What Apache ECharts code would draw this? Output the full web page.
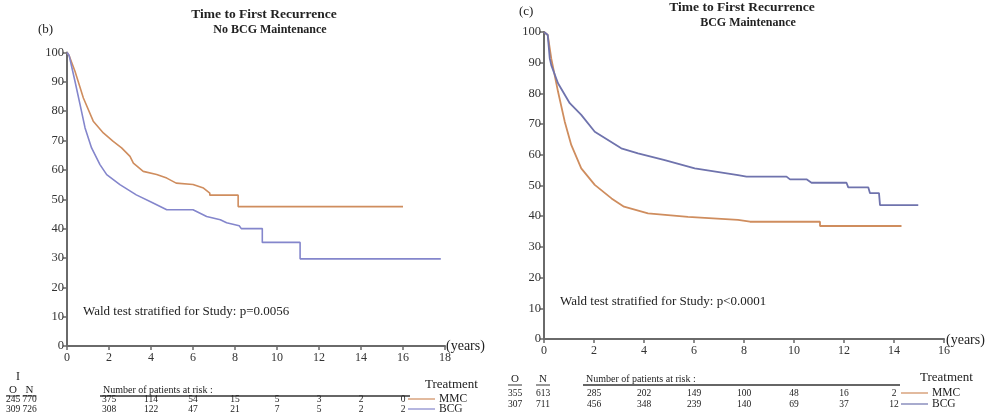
<!DOCTYPE html>
<html><head><meta charset="utf-8">
<script src="https://cdn.jsdelivr.net/npm/echarts@6/dist/echarts.min.js"></script>
<style>html,body{margin:0;padding:0;background:#fff}#c{width:990px;height:418px}</style>
</head><body><div id="c"></div>
<script>
// ---- data ----
// Left panel (b): No BCG Maintenance  [years, % recurrence-free]
const leftMMC = [[0,100],[0.1,99],[0.38,93.6],[0.78,84.5],[1.25,76.6],[1.73,72.6],[2.2,69.7],[2.6,67.5],[3.0,64.6],[3.16,62.3],[3.63,59.5],[4.27,58.4],[4.75,57.2],[5.2,55.5],[6.0,55],[6.5,53.8],[6.8,52.1],[6.8,51.4],[8.15,51.4],[8.15,47.5],[16,47.5]];
const leftBCG = [[0,100],[0.1,99],[0.38,90.2],[0.62,82.3],[0.86,74.3],[1.17,67.5],[1.57,61.8],[1.89,58.4],[2.52,55],[3.3,51.5],[4.1,48.7],[4.75,46.4],[6.0,46.4],[6.65,44.1],[7.3,43],[7.6,42],[8.2,41],[8.3,40],[9.3,40],[9.3,35.3],[11.1,35.3],[11.1,29.7],[17.8,29.7]];
const leftRiskTimes = [2,4,6,8,10,12,14,16];
const leftRiskMMC = [375,114,54,15,5,3,2,0];
const leftRiskBCG = [308,122,47,21,7,5,2,2];
const leftON_MMC = ['245','770'];
const leftON_BCG = ['309','726'];
// Right panel (c): BCG Maintenance
const rightMMC = [[0,100],[0.15,99],[0.29,91.4],[0.56,80.6],[0.83,70.8],[1.09,63.2],[1.49,55.6],[2.03,50.2],[2.7,45.8],[3.2,43.1],[4.16,40.9],[5.76,39.8],[7.76,38.8],[8.24,38.2],[11.04,38.2],[11.04,36.8],[14.3,36.8]];
const rightBCG = [[0,100],[0.15,99],[0.23,91.4],[0.29,89.2],[0.56,83.3],[1.03,76.8],[1.49,73],[2.03,67.5],[3.09,62.1],[3.76,60.5],[4.83,58.3],[6.03,55.6],[7.76,53.4],[8.1,52.9],[9.7,52.9],[9.84,52],[10.5,52],[10.7,50.9],[12.1,50.9],[12.17,49.4],[12.97,49.4],[13.04,47.5],[13.4,47.5],[13.44,43.6],[14.97,43.6]];
const rightRiskTimes = [2,4,6,8,10,12,14];
const rightRiskMMC = [285,202,149,100,48,16,2];
const rightRiskBCG = [456,348,239,140,69,37,12];
const rightON_MMC = ['355','613'];
const rightON_BCG = ['307','711'];

// ---- styling ----
const SERIF = '"Liberation Serif","DejaVu Serif",serif';
const AX = '#6a6a6a';
const C_MMC = '#cf8d5e';
const C_BCG_L = '#8486cc';
const C_BCG_R = '#6f73ad';

function xAx(grid, max) {
  return {type:'value', gridIndex:grid, min:0, max:max, interval:2,
    axisLine:{show:true, lineStyle:{color:AX, width:2}},
    axisTick:{show:true, length:4, lineStyle:{color:AX, width:1.5}},
    axisLabel:{color:'#333', fontFamily:SERIF, fontSize:12, margin:6},
    splitLine:{show:false}};
}
function yAx(grid) {
  return {type:'value', gridIndex:grid, min:0, max:100, interval:10,
    axisLine:{show:true, lineStyle:{color:AX, width:2}},
    axisTick:{show:true, length:4, lineStyle:{color:AX, width:1.5}},
    axisLabel:{color:'#333', fontFamily:SERIF, fontSize:12.5, margin:3},
    splitLine:{show:false}};
}
function line(data, color, xi, w) {
  return {type:'line', xAxisIndex:xi, yAxisIndex:xi, data:data, symbol:'none',
    lineStyle:{color:color, width:w}, silent:true, animation:false};
}

const chart = echarts.init(document.getElementById('c'), null, {renderer:'canvas'});
chart.setOption({
  animation:false,
  backgroundColor:'#fff',
  grid:[
    {left:67, top:52.5, width:378, height:293.5},
    {left:544, top:32, width:400, height:307}
  ],
  xAxis:[xAx(0,18), xAx(1,16)],
  yAxis:[yAx(0), yAx(1)],
  series:[
    line(leftMMC, C_MMC, 0, 1.6),
    line(leftBCG, C_BCG_L, 0, 1.6),
    line(rightMMC, C_MMC, 1, 1.8),
    line(rightBCG, C_BCG_R, 1, 1.8)
  ]
});

// ---- text & risk tables ----
function txt(x, y, s, opt) {
  opt = opt || {};
  return {type:'text', silent:true, style:{x:x, y:y, text:s,
    font:(opt.bold?'bold ':'') + (opt.size||10) + 'px ' + SERIF,
    fill:opt.color||'#222', textAlign:opt.align||'left', align:opt.align||'left',
    textVerticalAlign:'middle', verticalAlign:'middle'}};
}
function ln(x1,y1,x2,y2,color,w) {
  return {type:'line', silent:true, shape:{x1:x1,y1:y1,x2:x2,y2:y2}, style:{stroke:color||'#333', lineWidth:w||1.2}};
}
const els = [];
// Panel labels and titles
els.push(txt(38, 30, '(b)', {size:13}));
els.push(txt(264, 15, 'Time to First Recurrence', {size:13.5, bold:true, align:'center'}));
els.push(txt(270, 30, 'No BCG Maintenance', {size:12, bold:true, align:'center'}));
els.push(txt(519, 12, '(c)', {size:13}));
els.push(txt(742, 8, 'Time to First Recurrence', {size:13.5, bold:true, align:'center'}));
els.push(txt(748, 23, 'BCG Maintenance', {size:12, bold:true, align:'center'}));
els.push(txt(16, 377, 'I', {size:12}));
// Wald tests
els.push(txt(83, 312, 'Wald test stratified for Study: p=0.0056', {size:13}));
els.push(txt(560, 302, 'Wald test stratified for Study: p<0.0001', {size:13}));
// (years)
els.push(txt(446, 346, '(years)', {size:14}));
els.push(txt(946, 340, '(years)', {size:14}));

function riskTable(xi, times, mmc, bcg, onM, onB, oX, nX, hY, r1Y, r2Y, numX, ulEnd, trX, trY, legX) {
  els.push(txt(oX, hY, 'O', {size:11, align:'center'}));
  els.push(txt(nX, hY, 'N', {size:11, align:'center'}));
  els.push(ln(oX-7, hY+6, oX+7, hY+6, '#333', 1));
  els.push(ln(nX-7, hY+6, nX+7, hY+6, '#333', 1));
  els.push(txt(numX, hY, 'Number of patients at risk :', {size:10}));
  els.push(ln(numX-3, hY+6, ulEnd, hY+6, '#333', 1.5));
  els.push(txt(oX, r1Y, onM[0], {size:9.5, align:'center'}));
  els.push(txt(nX, r1Y, onM[1], {size:9.5, align:'center'}));
  els.push(txt(oX, r2Y, onB[0], {size:9.5, align:'center'}));
  els.push(txt(nX, r2Y, onB[1], {size:9.5, align:'center'}));
  times.forEach(function(t, i) {
    const px = chart.convertToPixel({xAxisIndex:xi}, t);
    els.push(txt(px, r1Y, String(mmc[i]), {size:9.5, align:'center'}));
    els.push(txt(px, r2Y, String(bcg[i]), {size:9.5, align:'center'}));
  });
  els.push(txt(trX, trY, 'Treatment', {size:13}));
  els.push(ln(legX, r1Y, legX+27, r1Y, C_MMC, 1.2));
  els.push(ln(legX, r2Y, legX+27, r2Y, xi===0?C_BCG_L:C_BCG_R, 1.2));
  els.push(txt(legX+31, r1Y, 'MMC', {size:11.5}));
  els.push(txt(legX+31, r2Y, 'BCG', {size:11.5}));
}
riskTable(0, leftRiskTimes, leftRiskMMC, leftRiskBCG, leftON_MMC, leftON_BCG,
  13, 29.5, 390, 399, 409, 103, 410, 425, 385, 408);
riskTable(1, rightRiskTimes, rightRiskMMC, rightRiskBCG, rightON_MMC, rightON_BCG,
  515, 543, 379, 393, 404, 586, 900, 920, 378, 901);

chart.setOption({graphic:{elements:els}});
</script>
</body></html>
